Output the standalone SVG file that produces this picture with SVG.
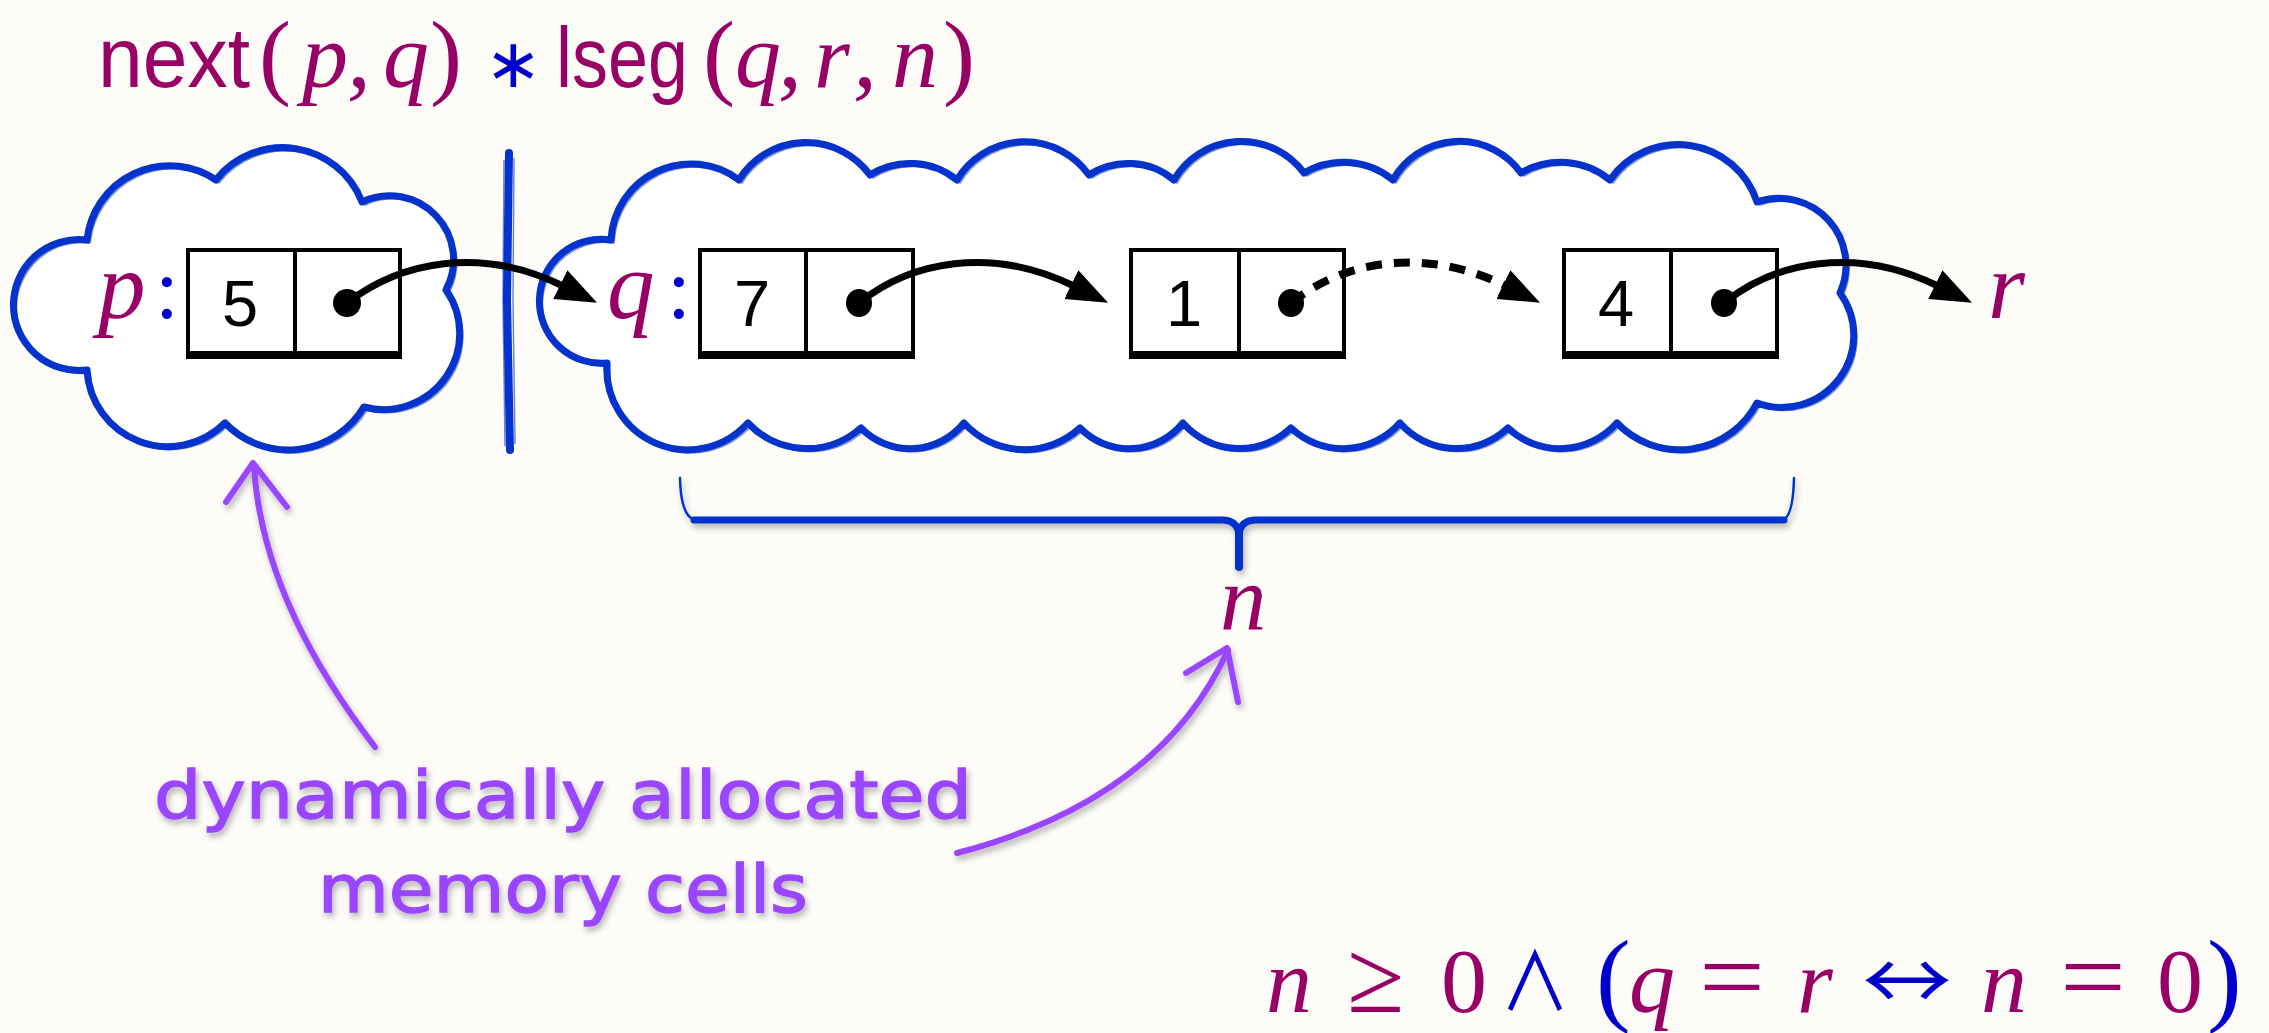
<svg xmlns="http://www.w3.org/2000/svg" width="2269" height="1033" viewBox="0 0 2269 1033">
<defs>
<style>
.cloud{fill:#ffffff;stroke:#0533cc;stroke-width:7;stroke-linejoin:round}
.cloud2{fill:none;stroke:#0533cc;stroke-width:1.6;opacity:.55}
.cell{fill:#ffffff;stroke:#000;stroke-width:4}
.num{font-family:"Liberation Sans",Arial,sans-serif;font-size:65px;fill:#000;text-anchor:middle}
.var{font-family:"Liberation Serif","Times New Roman",serif;font-style:italic;fill:#990066}
.up{font-family:"Liberation Serif","Times New Roman",serif;fill:#990066}
.sans{font-family:"Liberation Sans",Arial,sans-serif;fill:#990066}
.sym{font-family:"DejaVu Sans",sans-serif;fill:#0000cc}
.cjk{font-family:"Noto Sans CJK JP","DejaVu Sans",sans-serif;fill:#0000cc}
.blue{fill:#0000cc}
.conn{fill:none;stroke:#000;stroke-width:7;stroke-linecap:round}
.dash{stroke-dasharray:16 12;stroke-width:8;stroke-linecap:butt}
.purple{fill:none;stroke:#9a45ff;stroke-width:6;stroke-linecap:round;stroke-linejoin:round}
.note{font-family:"DejaVu Sans",sans-serif;font-size:66px;fill:#9a45ff;stroke:#9a45ff;stroke-width:1.4}
.brace{fill:none;stroke:#0533cc;stroke-linecap:round}
</style>
<marker id="head" markerUnits="userSpaceOnUse" markerWidth="44" markerHeight="34" refX="3" refY="16" orient="auto" viewBox="0 0 44 34"><path d="M0,0 L41,16 L0,32 z" fill="#000"/></marker>
<filter id="shadow" x="-10%" y="-10%" width="120%" height="130%"><feDropShadow dx="2" dy="4" stdDeviation="3" flood-color="#000" flood-opacity="0.3"/></filter>
<path id="lc" d="M87,240 A83,83 0 0 1 216,180 A85,85 0 0 1 362,202 A64,64 0 0 1 446,290 A76,76 0 0 1 364,407 A88,88 0 0 1 225,423 A81,81 0 0 1 87,370 A65.5,65.5 0 1 1 87,240 Z"/>
<path id="rc" d="M611,240 A80,80 0 0 1 739,180 A79,79 0 0 1 870,175 A75,75 0 0 1 957,180 A79,79 0 0 1 1089,175 A72,72 0 0 1 1174,180 A78,78 0 0 1 1304,173 A78,78 0 0 1 1393,180 A76,76 0 0 1 1521,173 A78,78 0 0 1 1610,180 A83,83 0 0 1 1757,202 A67,67 0 0 1 1840,293 A72,72 0 0 1 1757,403 A87,87 0 0 1 1617,423 A76,76 0 0 1 1508,428 A75,75 0 0 1 1400,423 A76,76 0 0 1 1291,428 A75,75 0 0 1 1183,423 A69,69 0 0 1 1080,428 A82,82 0 0 1 964,423 A69,69 0 0 1 861,428 A81,81 0 0 1 748,423 A81,81 0 0 1 607,363 A62,62 0 1 1 611,240 Z"/>
</defs>
<rect width="2269" height="1033" fill="#fefcf9"/>

<g id="title">
<text class="sans" x="98" y="87" font-size="86" textLength="152" lengthAdjust="spacingAndGlyphs">next</text>
<text class="up" x="259" y="87" font-size="96">(</text>
<text class="var" x="302" y="87" font-size="92">p</text>
<text class="var" x="347" y="87" font-size="96">,</text>
<text class="var" x="383" y="87" font-size="92">q</text>
<text class="up" x="430" y="87" font-size="96">)</text>
<text class="sym" x="485" y="87" font-size="68">∗</text>
<text class="sans" x="556" y="87" font-size="86" textLength="132" lengthAdjust="spacingAndGlyphs">lseg</text>
<text class="up" x="703" y="87" font-size="96">(</text>
<text class="var" x="735" y="87" font-size="92">q</text>
<text class="var" x="778" y="87" font-size="96">,</text>
<text class="var" x="814" y="87" font-size="92">r</text>
<text class="var" x="853" y="87" font-size="96">,</text>
<text class="var" x="892" y="87" font-size="92">n</text>
<text class="up" x="943" y="87" font-size="96">)</text>
</g>

<g id="cloud-left">
<use href="#lc" class="cloud"/>
<use href="#lc" class="cloud2" transform="translate(3,3)"/>
<use href="#lc" class="cloud2" transform="translate(-2,-2)"/>
</g>
<g id="separator">
<path d="M509,153 L507,300 L510,450" fill="none" stroke="#0533cc" stroke-width="8" stroke-linecap="round"/>
<path d="M504,160 L503,300 L505,446" fill="none" stroke="#0533cc" stroke-width="1.5" opacity=".6"/>
<path d="M514,158 L513,300 L515,444" fill="none" stroke="#0533cc" stroke-width="1.5" opacity=".6"/>
</g>
<g id="cloud-right">
<use href="#rc" class="cloud"/>
<use href="#rc" class="cloud2" transform="translate(3,3)"/>
<use href="#rc" class="cloud2" transform="translate(-2,-2)"/>
</g>

<g id="cell-p">
<text class="var" x="98" y="318" font-size="95">p</text>
<text class="up blue" x="155" y="318" font-size="86">:</text>
<rect class="cell" x="188" y="250" width="212" height="104"/>
<rect x="186" y="351" width="216" height="8" fill="#000"/>
<line x1="295" y1="250" x2="295" y2="354" stroke="#000" stroke-width="4"/>
<text class="num" x="240" y="326">5</text>
<circle cx="347" cy="303" r="14" fill="#000"/>
</g>
<g id="cell-q">
<text class="var" x="607" y="318" font-size="95">q</text>
<text class="up blue" x="667" y="318" font-size="86">:</text>
<rect class="cell" x="700" y="250" width="213" height="104"/>
<rect x="698" y="351" width="217" height="8" fill="#000"/>
<line x1="806" y1="250" x2="806" y2="354" stroke="#000" stroke-width="4"/>
<text class="num" x="752" y="326">7</text>
<ellipse cx="859" cy="303" rx="13" ry="14" fill="#000"/>
</g>
<g id="cell-1">
<rect class="cell" x="1131" y="250" width="213" height="104"/>
<rect x="1129" y="351" width="217" height="8" fill="#000"/>
<line x1="1239" y1="250" x2="1239" y2="354" stroke="#000" stroke-width="4"/>
<text class="num" x="1184" y="326">1</text>
<ellipse cx="1291" cy="303" rx="13" ry="14" fill="#000"/>
</g>
<g id="cell-4">
<rect class="cell" x="1564" y="250" width="213" height="104"/>
<rect x="1562" y="351" width="217" height="8" fill="#000"/>
<line x1="1671" y1="250" x2="1671" y2="354" stroke="#000" stroke-width="4"/>
<text class="num" x="1616" y="326">4</text>
<ellipse cx="1724" cy="303" rx="13" ry="14" fill="#000"/>
</g>
<g id="label-r">
<text class="var" x="1988" y="318" font-size="95">r</text>
</g>

<g id="brace" filter="url(#shadow)">
<path class="brace" stroke-width="7" d="M694,520 L1222,520 Q1237,520 1239,534 Q1241,520 1256,520 L1784,520"/>
<path class="brace" stroke-width="8" d="M1239,528 L1239,567"/>
<path class="brace" stroke-width="2.5" d="M680,478 Q681,518 696,520"/>
<path class="brace" stroke-width="2.5" d="M1794,478 Q1793,518 1782,520"/>
</g>
<g id="label-n">
<text class="var" x="1220" y="630" font-size="93">n</text>
</g>

<g id="annotation" filter="url(#shadow)">
<text class="note" x="154" y="818" textLength="818" lengthAdjust="spacingAndGlyphs">dynamically allocated</text>
<text class="note" x="318" y="912" textLength="490" lengthAdjust="spacingAndGlyphs">memory cells</text>
</g>

<g id="connectors">
<path class="conn" d="M347,303 C400,262 480,245 563,286" marker-end="url(#head)"/>
<path class="conn" d="M859,303 C910,262 990,245 1074,286" marker-end="url(#head)"/>
<path class="conn dash" d="M1291,303 C1342,262 1422,245 1506,286" marker-end="url(#head)"/>
<path class="conn" d="M1724,303 C1775,262 1855,245 1938,286" marker-end="url(#head)"/>
<g filter="url(#shadow)">
<path class="purple" d="M375,747 Q262,600 254,466"/>
<path class="purple" stroke-width="4.5" d="M226,502 L253,463 L287,507"/>
<path class="purple" d="M957,853 Q1160,800 1228,650"/>
<path class="purple" stroke-width="4.5" d="M1186,673 L1227,648 L1238,702"/>
</g>
</g>

<g id="formula">
<text class="var" x="1266" y="1012" font-size="92">n</text>
<text class="up" x="1347" y="1012" font-size="104">≥</text>
<text class="up" x="1441" y="1012" font-size="92">0</text>
<text class="cjk" x="1500" y="1010" font-size="80" textLength="70" lengthAdjust="spacingAndGlyphs">∧</text>
<text class="up blue" x="1596" y="1012" font-size="104">(</text>
<text class="var" x="1629" y="1012" font-size="92">q</text>
<text class="up" x="1699" y="1012" font-size="104" textLength="66" lengthAdjust="spacingAndGlyphs">=</text>
<text class="var" x="1797" y="1012" font-size="92">r</text>
<text class="cjk" x="1862" y="1010" font-size="80" textLength="90" lengthAdjust="spacingAndGlyphs">↔</text>
<text class="var" x="1981" y="1012" font-size="92">n</text>
<text class="up" x="2060" y="1012" font-size="104" textLength="66" lengthAdjust="spacingAndGlyphs">=</text>
<text class="up" x="2157" y="1012" font-size="92">0</text>
<text class="up blue" x="2207" y="1012" font-size="104">)</text>
</g>
</svg>
